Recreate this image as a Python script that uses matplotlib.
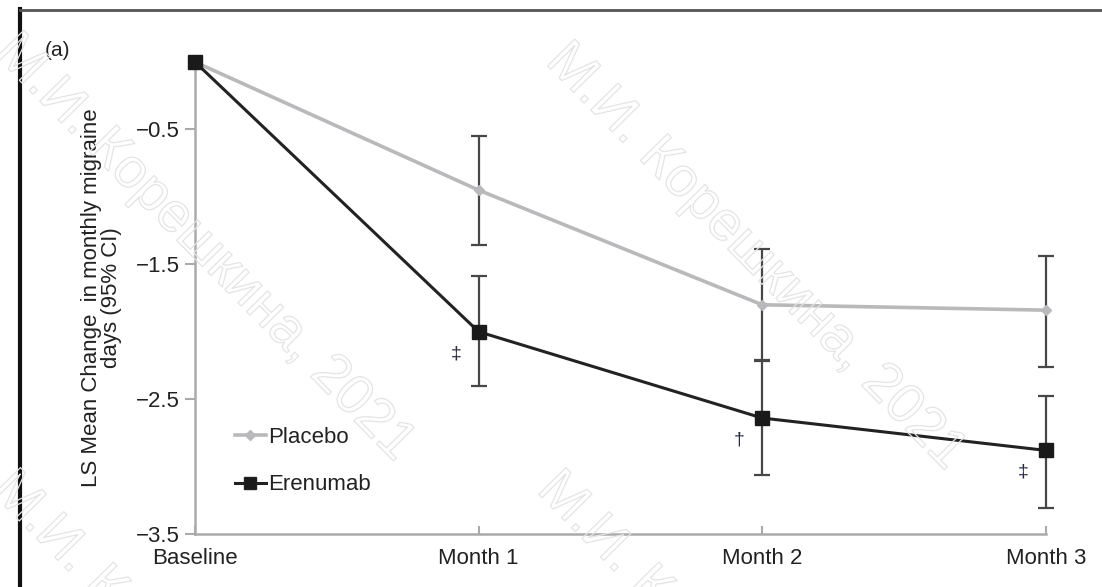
import matplotlib
matplotlib.use("Agg")
import matplotlib.pyplot as plt
import matplotlib.patheffects as pe
from matplotlib.lines import Line2D

plt.rcParams['font.family'] = ['Liberation Sans', 'DejaVu Sans']

timepoints = ['Baseline', 'Month 1', 'Month 2', 'Month 3']

placebo_mean = [0.0, -0.95, -1.80, -1.84]
placebo_lo = [0.0, -1.36, -2.21, -2.26]
placebo_hi = [0.0, -0.55, -1.39, -1.44]

erenumab_mean = [0.0, -2.00, -2.64, -2.88]
erenumab_lo = [0.0, -2.40, -3.06, -3.31]
erenumab_hi = [0.0, -1.59, -2.22, -2.48]

sig_marks = ['', '\u2021', '\u2020', '\u2021']
yticks = [-0.5, -1.5, -2.5, -3.5]

fig = plt.figure(figsize=(11.02, 5.87), dpi=100)
ax = fig.add_axes([0.177, 0.0903, 0.772, 0.804])
ax.patch.set_visible(False)

x = list(range(len(timepoints)))

def errs(mean, lo, hi):
    return [[m - l for m, l in zip(mean, lo)], [h - m for m, h in zip(mean, hi)]]

# error bars first (only for the months)
for mean, lo, hi in [(placebo_mean, placebo_lo, placebo_hi),
                     (erenumab_mean, erenumab_lo, erenumab_hi)]:
    ax.errorbar(x[1:], mean[1:], yerr=[e[1:] for e in errs(mean, lo, hi)],
                fmt='none', ecolor='#474747', elinewidth=1.6, capsize=6,
                capthick=1.6, zorder=2, clip_on=False)

ax.plot(x, placebo_mean, color='#b9b9bb', lw=2.6, marker='D', ms=5,
        mfc='#b9b9bb', mec='#b9b9bb', zorder=3, clip_on=False)
ax.plot(x, erenumab_mean, color='#222222', lw=2.2, marker='s', ms=10,
        mfc='#1a1a1a', mec='#1a1a1a', zorder=4, clip_on=False)

for xi, s, m in zip(x, sig_marks, erenumab_mean):
    if s:
        ax.text(xi - 0.08, m - 0.1, s, fontsize=14, color='#2a2a44',
                ha='center', va='top')

ax.set_xlim(0, 3)
ax.set_ylim(-3.5, 0)
ax.set_xticks(x)
ax.set_xticklabels(timepoints, fontsize=16, color='#222222')
ax.set_yticks(yticks)
ax.set_yticklabels(['\u2212' + str(abs(v)) for v in yticks], fontsize=16,
                   color='#222222')
ax.tick_params(axis='x', direction='in', length=6, color='#aaaaaa', width=1.5,
               pad=10)
ax.tick_params(axis='y', direction='out', length=7, color='#aaaaaa', width=1.5,
               pad=4)
for side in ['top', 'right']:
    ax.spines[side].set_visible(False)
for side in ['left', 'bottom']:
    ax.spines[side].set_color('#aaaaaa')
    ax.spines[side].set_linewidth(1.8)

ax.set_ylabel('LS Mean Change  in monthly migraine\ndays (95% CI)',
              fontsize=16, color='#222222', linespacing=0.9, labelpad=10)

handles = [
    Line2D([], [], color='#b9b9bb', lw=2.6, marker='D', ms=5, mfc='#b9b9bb'),
    Line2D([], [], color='#222222', lw=2.2, marker='s', ms=8, mfc='#1a1a1a'),
]
ax.legend(handles, ['Placebo', 'Erenumab'], loc='upper left',
          bbox_to_anchor=(0.195, 0.307), bbox_transform=fig.transFigure,
          frameon=False, fontsize=16, handlelength=1.4, handletextpad=0.1,
          labelspacing=1.2, labelcolor='#222222')

fig.text(0.041, 0.905, '(a)', fontsize=15, color='#222222', ha='left')

# border lines of the cropped panel
fig.add_artist(Line2D([0.018, 0.018], [0, 0.985], transform=fig.transFigure,
                      color='#111111', lw=3))
fig.add_artist(Line2D([0.018, 1], [0.983, 0.983], transform=fig.transFigure,
                      color='#555555', lw=2))

# watermark
wm = 'М.И. Корешкина, 2021'
for wx, wy in [(0.003, 0.925), (0.503, 0.91), (0.0, 0.18), (0.495, 0.18)]:
    fig.text(wx, wy, wm, fontsize=40, rotation=-45.5, rotation_mode='anchor',
             ha='left', va='center', color='none', zorder=10,
             path_effects=[pe.withStroke(linewidth=0.9, foreground='#e4e4e4')])

fig.savefig('out.png', dpi=100)
